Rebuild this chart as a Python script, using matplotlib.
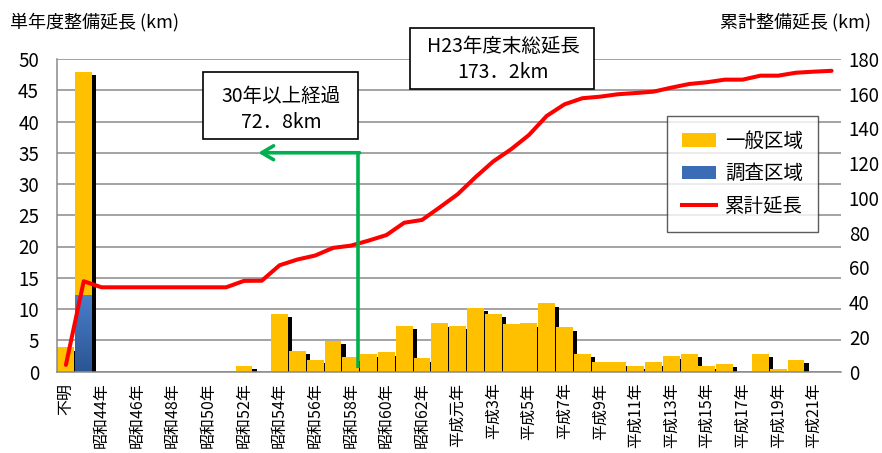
import numpy as np
import matplotlib
matplotlib.use('Agg')
import matplotlib.pyplot as plt
from matplotlib.patches import Rectangle, Patch
from matplotlib.lines import Line2D
from matplotlib.colors import LinearSegmentedColormap

plt.rcParams['font.family'] = ['Noto Sans CJK JP', 'DejaVu Sans']

# ---------------- data ----------------
categories = ["不明", "昭和43年",
              "昭和44年", "昭和45年", "昭和46年", "昭和47年", "昭和48年", "昭和49年",
              "昭和50年", "昭和51年", "昭和52年", "昭和53年", "昭和54年", "昭和55年",
              "昭和56年", "昭和57年", "昭和58年", "昭和59年", "昭和60年", "昭和61年",
              "昭和62年", "昭和63年",
              "平成元年", "平成2年", "平成3年", "平成4年", "平成5年", "平成6年",
              "平成7年", "平成8年", "平成9年", "平成10年", "平成11年", "平成12年",
              "平成13年", "平成14年", "平成15年", "平成16年", "平成17年", "平成18年",
              "平成19年", "平成20年", "平成21年", "平成22年"]

general = [3.9, 35.8, 0, 0, 0, 0, 0, 0, 0, 0,
           0.9, 0, 9.2, 3.3, 1.85, 4.9, 2.3, 2.8, 3.1, 7.3,
           2.15, 7.75, 7.3, 10.2, 9.2, 7.6, 7.75, 10.95, 7.1, 2.8,
           1.5, 1.5, 0.9, 1.5, 2.5, 2.8, 0.9, 1.2, 0, 2.8,
           0.4, 1.85, 0, 0]

survey = [0, 12.2, 0, 0, 0, 0, 0, 0, 0, 0,
          0, 0, 0, 0, 0, 0, 0, 0, 0, 0,
          0, 0, 0, 0, 0, 0, 0, 0, 0, 0,
          0, 0, 0, 0, 0, 0, 0, 0, 0, 0,
          0, 0, 0, 0]

cumulative = [3.8, 52.0, 48.5, 48.5, 48.5, 48.5, 48.5, 48.5, 48.5, 48.5,
              52.2, 52.3, 61.2, 64.5, 66.8, 71.2, 72.5, 75.4, 78.6, 85.7,
              87.3, 94.6, 102.1, 111.9, 121.0, 128.0, 136.2, 147.2, 153.9, 157.4,
              158.3, 159.7, 160.4, 161.2, 163.5, 165.6, 166.6, 168.1, 168.1, 170.4,
              170.4, 172.1, 172.7, 173.2]

left_ticks = [0, 5, 10, 15, 20, 25, 30, 35, 40, 45, 50]
right_ticks = [0, 20, 40, 60, 80, 100, 120, 140, 160, 180]

series_names = ["一般区域", "調査区域", "累計延長"]
left_title = "単年度整備延長 (km)"
right_title = "累計整備延長 (km)"
note1 = ["30年以上経過", "72．8km"]
note2 = ["H23年度末総延長", "173．2km"]
arrow_x_start = 16.4   # category axis position of the green marker
arrow_x_end = 10.8
arrow_y = 35

# ---------------- figure ----------------
W, H = 882, 453
fig = plt.figure(figsize=(W / 100, H / 100), dpi=100)

def fx(px):
    return px / W

def fy(py):
    return 1 - py / H

ax = fig.add_axes([fx(57), fy(371.5), fx(840.5) - fx(57), fy(59) - fy(371.5)])
x = np.arange(len(categories))
gen = np.array(general)
sur = np.array(survey)
tot = gen + sur

YELLOW = '#FFC000'
BLUE = '#3a6db5'
bw = 0.95
# shadows
dx, dy = 0.23, 0.55
sh_h = np.clip(tot - dy, 0, None)
ax.bar(x + dx, sh_h, width=bw, color='black', linewidth=0, zorder=1)
# survey (blue, gradient)
blue_bars = ax.bar(x, sur, width=bw, color=BLUE, linewidth=0, zorder=2)
grad = np.linspace(0, 1, 256).reshape(-1, 1)
bcmap = LinearSegmentedColormap.from_list('b', ['#2b5593', '#4a7fcb'])
for rect, v in zip(blue_bars, sur):
    if v > 0:
        x0 = rect.get_x()
        im = ax.imshow(grad, extent=[x0, x0 + rect.get_width(), 0, v], origin='lower',
                       cmap=bcmap, aspect='auto', zorder=2.1)
        im.set_clip_path(rect)
# general (yellow) stacked on survey
ax.bar(x, gen, width=bw, bottom=sur, color=YELLOW, linewidth=0, zorder=2)

ax.set_xlim(-0.5, len(categories) - 0.5)
ax.set_ylim(0, 50)
ax.set_yticks(left_ticks)
ax.set_yticklabels([str(t) for t in left_ticks])
ax.yaxis.grid(True, color='#8a8a8a', linewidth=1.1)
ax.set_axisbelow(True)
for s in ['top', 'right']:
    ax.spines[s].set_visible(False)
ax.spines['left'].set_color('#8a8a8a')
ax.spines['left'].set_linewidth(1.1)
ax.spines['bottom'].set_color('#8a8a8a')
ax.spines['bottom'].set_linewidth(1.1)
ax.spines['bottom'].set_zorder(3)
ax.tick_params(axis='y', length=0, pad=13, labelsize=13.5)
ax.set_xticks(x[::2])
ax.set_xticklabels(categories[::2], rotation=90, fontsize=11.5)
ax.tick_params(axis='x', length=0, pad=8)

ax2 = ax.twinx()
ax2.plot(x, cumulative, color='#FF0000', linewidth=2.9, solid_joinstyle='round',
         solid_capstyle='round', zorder=3)
ax2.set_ylim(0, 180)
ax2.set_yticks(right_ticks)
ax2.set_yticklabels([str(t) for t in right_ticks])
ax2.tick_params(axis='y', length=0, pad=6, labelsize=13.5)
for s in ['top', 'right', 'left', 'bottom']:
    ax2.spines[s].set_visible(False)

# green marker
GREEN = '#00B050'
ax2.plot([arrow_x_start, arrow_x_start], [0.5, arrow_y], color=GREEN, linewidth=2.6,
         transform=ax.transData, zorder=5, solid_capstyle='butt')
ax2.annotate('', xy=(arrow_x_end, arrow_y), xytext=(arrow_x_start + 0.09, arrow_y),
             xycoords=ax.transData, textcoords=ax.transData,
             arrowprops=dict(arrowstyle='->,head_length=0.85,head_width=0.5',
                             color=GREEN, linewidth=2.6, shrinkA=0, shrinkB=0),
             zorder=5)

# legend
handles = [Patch(facecolor=YELLOW, edgecolor='none'),
           Patch(facecolor=BLUE, edgecolor='none'),
           Line2D([0], [0], color='#FF0000', linewidth=2.9)]
leg = ax2.legend(handles, series_names, loc='upper left',
                 bbox_to_anchor=(fx(667), fy(116)), bbox_transform=fig.transFigure,
                 fontsize=14, frameon=True, fancybox=False, borderpad=0.75,
                 labelspacing=0.6, handlelength=1.75, handleheight=0.7,
                 handletextpad=0.5, borderaxespad=0)
leg.get_frame().set_edgecolor('#333333')
leg.get_frame().set_linewidth(1.0)
leg.set_zorder(10)

# titles
fig.text(fx(10), fy(22), left_title, fontsize=13, ha='left', va='center')
fig.text(fx(720), fy(22), right_title, fontsize=13, ha='left', va='center')

# annotation boxes
def box(x0, y0, x1, y1, lines, ys, xc):
    r = Rectangle((fx(x0), fy(y1)), fx(x1) - fx(x0), fy(y0) - fy(y1),
                  transform=fig.transFigure, facecolor='white', edgecolor='black',
                  linewidth=1.2, zorder=20)
    fig.add_artist(r)
    for t, yy in zip(lines, ys):
        fig.text(fx(xc), fy(yy), t, fontsize=14, ha='center', va='center', zorder=21)

box(203, 72, 358, 139, note1, [97, 122], 281)
box(410, 28, 594, 89, note2, [46, 73], 503)

fig.savefig('out.png', dpi=100)
